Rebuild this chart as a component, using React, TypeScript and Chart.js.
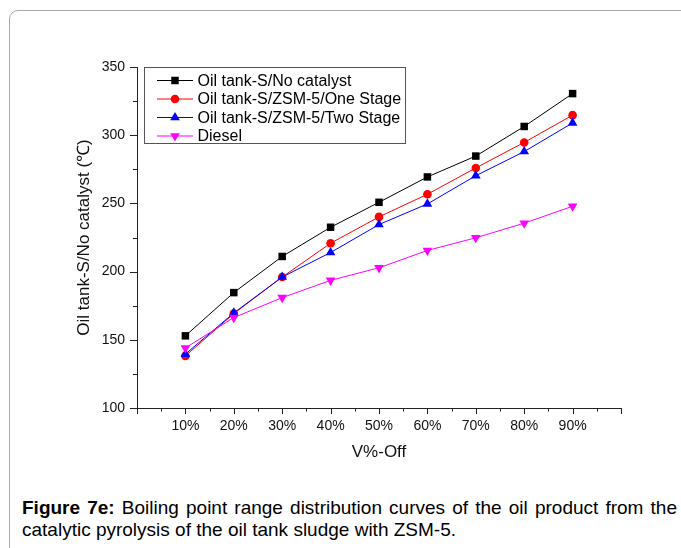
import React, { useEffect, useRef } from 'react';
import { Chart, registerables } from 'chart.js';
import { drawPoint } from 'chart.js/helpers';

Chart.register(...registerables);

// ---- data ----
const categories = [10, 20, 30, 40, 50, 60, 70, 80, 90];
const noCatalyst = [152.9, 184.6, 211.1, 232.5, 250.8, 269.4, 284.7, 306.4, 330.5];
const oneStage = [138.2, 169.2, 196.0, 220.8, 240.1, 256.7, 276.0, 294.7, 314.7];
const twoStage = [139.5, 169.7, 196.0, 214.0, 234.5, 249.6, 270.3, 288.0, 309.0];
const diesel = [144.0, 166.3, 180.9, 193.6, 202.8, 215.5, 224.8, 235.5, 247.9];
const seriesNames = [
  'Oil tank-S/No catalyst',
  'Oil tank-S/ZSM-5/One Stage',
  'Oil tank-S/ZSM-5/Two Stage',
  'Diesel',
];
const xTitle = 'V%-Off';
const yTitle = 'Oil tank-S/No catalyst (\u2103)';
const captionBold = 'Figure 7e:';
const captionLine1 = ' Boiling point range distribution curves of the oil product from the';
const captionLine2 = 'catalytic pyrolysis of the oil tank sludge with ZSM-5.';

const FONT = '"Liberation Sans", Arial, sans-serif';

const styles = [
  { color: '#000000', pointStyle: 'rect', radius: 5.3, rotation: 0 },
  { color: '#ff0000', pointStyle: 'circle', radius: 4.3, rotation: 0 },
  { color: '#0000ff', pointStyle: 'triangle', radius: 5.6, rotation: 0 },
  { color: '#ff00ff', pointStyle: 'triangle', radius: 5.6, rotation: 180 },
];

const toPoints = (vals: number[]) => categories.map((c, i) => ({ x: c, y: vals[i] }));

const tickAndLegendPlugin = {
  id: 'tickAndLegend',
  afterDraw(chart: any) {
    const ctx = chart.ctx as CanvasRenderingContext2D;
    const xs = chart.scales.x;
    const ys = chart.scales.y;
    ctx.save();
    ctx.strokeStyle = '#222';
    ctx.lineWidth = 1;
    ctx.beginPath();
    xs.ticks.forEach((t: any) => {
      const px = Math.round(xs.getPixelForValue(t.value)) + 0.5;
      const len = t.value % 10 === 0 ? 6 : 3.5;
      ctx.moveTo(px, xs.top);
      ctx.lineTo(px, xs.top + len);
    });
    ys.ticks.forEach((t: any) => {
      const py = Math.round(ys.getPixelForValue(t.value)) + 0.5;
      const len = t.value % 50 === 0 ? 7 : 4;
      ctx.moveTo(ys.right, py);
      ctx.lineTo(ys.right - len, py);
    });
    ctx.stroke();

    // legend
    const lx = 144.5, ly = 67.5, lw = 261, lh = 76;
    ctx.fillStyle = '#ffffff';
    ctx.fillRect(lx, ly, lw, lh);
    ctx.strokeStyle = '#555';
    ctx.strokeRect(lx, ly, lw, lh);
    const rows = [80.5, 99, 117.5, 136];
    ctx.font = '16px ' + FONT;
    ctx.textBaseline = 'middle';
    ctx.textAlign = 'left';
    seriesNames.forEach((name, i) => {
      const s = styles[i];
      const yy = rows[i];
      ctx.strokeStyle = s.color;
      ctx.lineWidth = 1;
      ctx.beginPath();
      ctx.moveTo(157, yy);
      ctx.lineTo(193, yy);
      ctx.stroke();
      ctx.fillStyle = s.color;
      ctx.strokeStyle = s.color;
      drawPoint(ctx, { pointStyle: s.pointStyle, radius: s.radius, rotation: s.rotation, borderWidth: 0 } as any, 175, yy);
      ctx.fillStyle = '#000';
      ctx.fillText(name, 197.5, yy + 1);
    });
    ctx.restore();
  },
};

function ChartView() {
  const ref = useRef<HTMLCanvasElement | null>(null);
  useEffect(() => {
    if (!ref.current) return;
    const datasets = [noCatalyst, oneStage, twoStage, diesel].map((vals, i) => ({
      label: seriesNames[i],
      data: toPoints(vals),
      borderColor: styles[i].color,
      backgroundColor: styles[i].color,
      borderWidth: 1,
      pointStyle: styles[i].pointStyle,
      pointRadius: styles[i].radius,
      pointRotation: styles[i].rotation,
      pointBorderWidth: 0,
      pointBackgroundColor: styles[i].color,
      pointBorderColor: styles[i].color,
      tension: 0,
      order: 4 - i,
      clip: false,
    }));
    const chart = new Chart(ref.current, {
      type: 'line',
      data: { datasets } as any,
      options: {
        animation: false,
        responsive: false,
        devicePixelRatio: 1,
        layout: { padding: { top: 67, right: 60, left: 0, bottom: 0 } },
        plugins: { legend: { display: false }, tooltip: { enabled: false } },
        scales: {
          x: {
            type: 'linear',
            min: 0,
            max: 100,
            afterFit: (s: any) => { s.height = 62; },
            grid: { display: false, drawTicks: false },
            border: { display: true, color: '#222', width: 1 },
            ticks: {
              stepSize: 5,
              autoSkip: false,
              maxRotation: 0,
              padding: 10,
              color: '#111',
              font: { family: FONT, size: 14 },
              callback: (v: any) => (v % 10 === 0 && v > 0 && v < 100 ? v + '%' : ''),
            },
            title: {
              display: true,
              text: xTitle,
              color: '#111',
              font: { family: FONT, size: 17 },
              padding: { top: 0, bottom: 7.8 },
            },
          },
          y: {
            type: 'linear',
            min: 100,
            max: 350,
            afterFit: (s: any) => { s.width = 137; },
            grid: { display: false, drawTicks: false },
            border: { display: true, color: '#222', width: 1 },
            ticks: {
              stepSize: 25,
              autoSkip: false,
              padding: 12,
              color: '#111',
              font: { family: FONT, size: 14 },
              callback: (v: any) => (v % 50 === 0 ? String(v) : ''),
            },
            title: {
              display: true,
              text: yTitle,
              color: '#111',
              font: { family: FONT, size: 17 },
              padding: { top: 74, bottom: 0 },
            },
          },
        },
      },
      plugins: [tickAndLegendPlugin],
    } as any);
    return () => chart.destroy();
  }, []);
  return <canvas ref={ref} width={681} height={470} style={{ position: 'absolute', left: 0, top: 0, width: 681, height: 470 }} />;
}

export default function App() {
  return (
    <div style={{ position: 'fixed', left: 0, top: 0, width: 681, height: 548, overflow: 'hidden', background: '#fff' }}>
      <div style={{ position: 'absolute', left: 9, top: 10, width: 720, height: 600, border: '1px solid #a8a8a8', borderRadius: 9 }} />
      <ChartView />
      <div style={{ position: 'absolute', left: 22, top: 497, width: 655, fontFamily: FONT, fontSize: 19, lineHeight: '22px', color: '#000' }}>
        <div style={{ textAlign: 'justify', textAlignLast: 'justify', whiteSpace: 'nowrap' as any }}>
          <span style={{ fontWeight: 'bold' }}>{captionBold}</span>{captionLine1}
        </div>
        <div>{captionLine2}</div>
      </div>
    </div>
  );
}
